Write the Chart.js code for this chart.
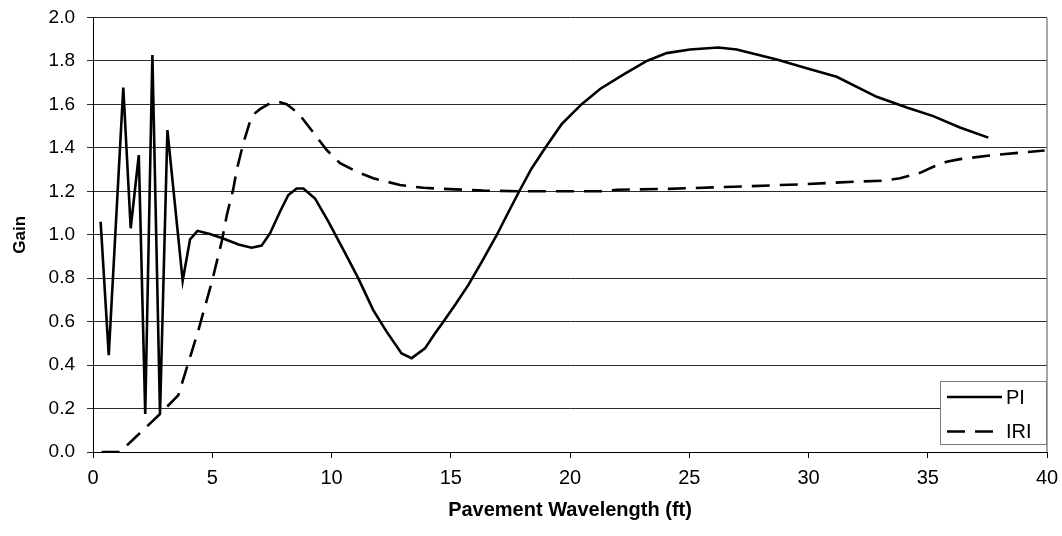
<!DOCTYPE html>
<html>
<head>
<meta charset="utf-8">
<title>Gain vs Pavement Wavelength</title>
<script src="https://cdn.jsdelivr.net/npm/chart.js@4.4.1/dist/chart.umd.min.js"></script>
<style>
  html, body { margin: 0; padding: 0; background: #fff; }
  #wrap { width: 1062px; height: 536px; position: relative; }
</style>
</head>
<body>
<div id="wrap"><canvas id="chart" width="1062" height="536"></canvas></div>
<script>
// Wavelength (ft) and gain for the PI filter
const piWavelength = [0.32, 0.66, 1.27, 1.58, 1.92, 2.19, 2.49, 2.81, 3.12, 3.76, 4.07, 4.38, 4.9, 5.46,
  6.1, 6.65, 7.07, 7.42, 7.84, 8.19, 8.54, 8.82, 9.31, 9.87, 10.5, 11.12, 11.75, 12.31, 12.94, 13.36,
  13.92, 14.3, 14.69, 15.2, 15.74, 16.3, 16.93, 17.4, 17.9, 18.39, 18.95, 19.65, 20.49, 21.26, 22.2,
  23.22, 24.05, 25.03, 26.22, 26.99, 28.67, 29.92, 31.18, 32.86, 34.12, 35.23, 36.35, 37.54];
const piGain = [1.06, 0.446, 1.678, 1.03, 1.367, 0.175, 1.827, 0.175, 1.482, 0.788, 0.979, 1.018, 1.003, 0.983,
  0.955, 0.94, 0.95, 1.006, 1.106, 1.183, 1.213, 1.213, 1.167, 1.06, 0.93, 0.80, 0.653, 0.554, 0.454, 0.432,
  0.477, 0.54, 0.60, 0.68, 0.769, 0.875, 0.999, 1.10, 1.206, 1.305, 1.398, 1.509, 1.601, 1.671, 1.735,
  1.800, 1.836, 1.853, 1.862, 1.853, 1.807, 1.766, 1.727, 1.635, 1.586, 1.546, 1.494, 1.447];

// Wavelength (ft) and gain for the IRI filter
const iriWavelength = [0.36, 0.92, 1.13, 2.81, 3.58, 3.86, 4.42, 5.0, 5.4, 5.61, 5.88, 6.03, 6.3, 6.58,
  6.8, 7.0, 7.42, 7.77, 8.12, 8.61, 9.1, 9.8, 10.36, 11.06, 11.75, 12.87, 13.85, 14.97, 16.37, 18, 20,
  21.26, 21.96, 24.05, 26.85, 29.64, 31.88, 33.14, 33.84, 34.68, 35.23, 35.79, 36.35, 37.75, 39.9];
const iriGain = [0, 0, 0, 0.175, 0.262, 0.362, 0.561, 0.79, 0.97, 1.09, 1.21, 1.30, 1.42, 1.52,
  1.56, 1.578, 1.605, 1.612, 1.601, 1.559, 1.49, 1.39, 1.329, 1.29, 1.26, 1.229, 1.216, 1.21, 1.203, 1.2, 1.2,
  1.2, 1.207, 1.211, 1.221, 1.232, 1.244, 1.249, 1.26, 1.285, 1.313, 1.336, 1.348, 1.367, 1.388];

const seriesNames = ['PI', 'IRI'];
const xAxisTitle = 'Pavement Wavelength (ft)';
const yAxisTitle = 'Gain';

const FONT = "'Liberation Sans', Arial, Helvetica, sans-serif";
const toPoints = (xs, ys) => xs.map((x, i) => ({ x: x, y: ys[i] }));

// Grey frame on the right side of the plot area
const plotFrame = {
  id: 'plotFrame',
  beforeDatasetsDraw(chart) {
    const { ctx, chartArea: a } = chart;
    ctx.save();
    ctx.strokeStyle = '#8a8a8a';
    ctx.lineWidth = 1.5;
    ctx.beginPath();
    ctx.moveTo(a.right, a.top);
    ctx.lineTo(a.right, a.bottom);
    ctx.stroke();
    ctx.restore();
  }
};

// Boxed legend in the lower right corner of the plot
const boxLegend = {
  id: 'boxLegend',
  afterDatasetsDraw(chart) {
    const { ctx, chartArea: a } = chart;
    const w = 107, h = 64;
    const x0 = a.right - w, y0 = a.bottom - 7 - h;
    ctx.save();
    ctx.fillStyle = '#fff';
    ctx.fillRect(x0, y0, w, h);
    ctx.strokeStyle = '#7a7a7a';
    ctx.lineWidth = 1;
    ctx.strokeRect(x0 + 0.5, y0 + 0.5, w - 1, h - 1);
    ctx.font = '20px ' + FONT;
    ctx.fillStyle = '#000';
    ctx.textBaseline = 'middle';
    chart.data.datasets.forEach((ds, i) => {
      const yy = y0 + 16 + i * 34.5;
      ctx.strokeStyle = ds.borderColor;
      ctx.lineWidth = ds.borderWidth;
      ctx.setLineDash(ds.borderDash || []);
      ctx.beginPath();
      ctx.moveTo(x0 + 7, yy);
      ctx.lineTo(x0 + 62, yy);
      ctx.stroke();
      ctx.setLineDash([]);
      ctx.fillText(ds.label, x0 + 66, yy + 1);
    });
    ctx.restore();
  }
};

new Chart(document.getElementById('chart'), {
  type: 'line',
  data: {
    datasets: [
      {
        label: seriesNames[0],
        data: toPoints(piWavelength, piGain),
        borderColor: '#000',
        borderWidth: 2.6,
        pointRadius: 0,
        tension: 0,
        fill: false
      },
      {
        label: seriesNames[1],
        data: toPoints(iriWavelength, iriGain),
        borderColor: '#000',
        borderWidth: 2.6,
        borderDash: [18, 10],
        pointRadius: 0,
        tension: 0,
        fill: false
      }
    ]
  },
  options: {
    responsive: false,
    animation: false,
    devicePixelRatio: 1,
    layout: { padding: 0 },
    plugins: {
      legend: { display: false },
      tooltip: { enabled: false }
    },
    scales: {
      x: {
        type: 'linear',
        min: 0,
        max: 40,
        ticks: {
          stepSize: 5,
          color: '#000',
          padding: 8,
          maxRotation: 0,
          font: { family: FONT, size: 20 }
        },
        grid: { drawOnChartArea: false, drawTicks: true, tickLength: 6, color: '#000' },
        border: { display: true, color: '#000', width: 1 },
        title: {
          display: true,
          text: xAxisTitle,
          color: '#000',
          font: { family: FONT, size: 20, weight: 'bold' },
          padding: { top: 0, bottom: 14 }
        },
        afterFit(scale) {
          scale.height = 84;
          scale.paddingLeft = 0;
          scale.paddingRight = 15;
        }
      },
      y: {
        min: 0,
        max: 2,
        ticks: {
          stepSize: 0.2,
          color: '#000',
          padding: 12,
          font: { family: FONT, size: 19 },
          callback: (v) => Number(v).toFixed(1)
        },
        grid: { drawTicks: true, tickLength: 6, color: '#2a2a2a', lineWidth: 1 },
        border: { display: true, color: '#000', width: 1 },
        title: {
          display: true,
          text: yAxisTitle,
          color: '#000',
          font: { family: FONT, size: 17, weight: 'bold' },
          padding: { top: 10, bottom: 0 }
        },
        afterFit(scale) {
          scale.width = 93;
          scale.paddingTop = 17.5;
          scale.paddingBottom = 0;
        }
      }
    }
  },
  plugins: [plotFrame, boxLegend]
});
</script>
</body>
</html>
